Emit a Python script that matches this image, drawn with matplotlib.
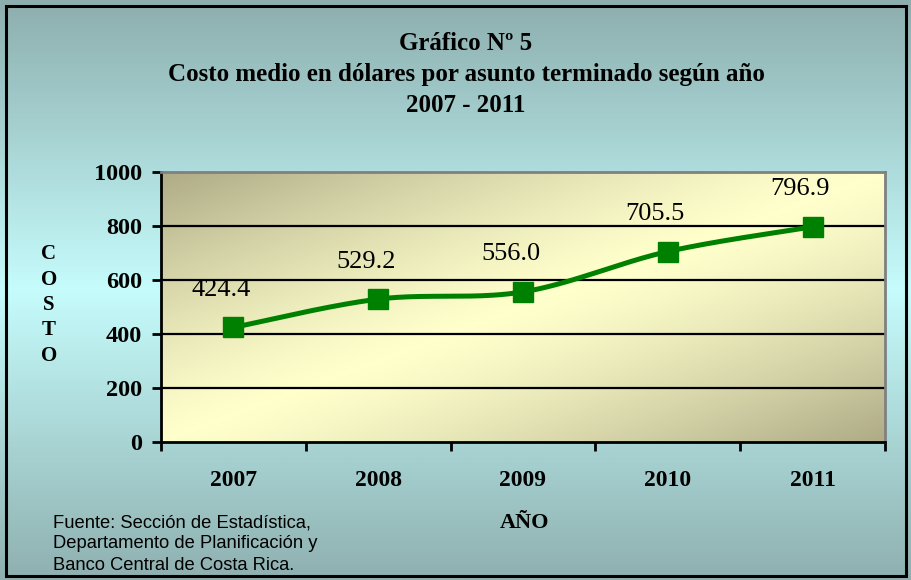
import numpy as np
import matplotlib
matplotlib.use("Agg")
import matplotlib.pyplot as plt
from matplotlib.colors import LinearSegmentedColormap

years = ["2007", "2008", "2009", "2010", "2011"]
costs = [424.4, 529.2, 556.0, 705.5, 796.9]
y_ticks = [0, 200, 400, 600, 800, 1000]
title_lines = ["Gráfico Nº 5",
               "Costo medio en dólares por asunto terminado según año",
               "2007 - 2011"]
source_text = "Fuente: Sección de Estadística,\nDepartamento de Planificación y\nBanco Central de Costa Rica."

W, H = 911, 580
fig = plt.figure(figsize=(W / 100, H / 100), dpi=100)

# ---- figure background (vertical gradient) ----
bg = fig.add_axes([0, 0, 1, 1], zorder=-10)
bg_cmap = LinearSegmentedColormap.from_list(
    "bg", [(0.0, "#8daeae"), (0.5, "#c6fcfc"), (1.0, "#8fb0b0")])
grad = np.linspace(0, 1, 400).reshape(-1, 1)
bg.imshow(grad, aspect="auto", cmap=bg_cmap, extent=[0, 1, 0, 1], origin="upper")
bg.set_xlim(0, 1); bg.set_ylim(0, 1)
bg.axis("off")
bg.add_patch(plt.Rectangle((6 / W, 4 / H), (906 - 6) / W, (576 - 6) / H,
                           fill=False, ec="black", lw=2.2, transform=bg.transAxes))

# ---- plot area ----
L, R, T, B = 161, 885, 172, 442
ax = fig.add_axes([L / W, 1 - B / H, (R - L) / W, (B - T) / H])
n = len(years)

# diagonal gradient fill (dark top-left and bottom-right)
gx, gy = np.meshgrid(np.linspace(0, 1, 300), np.linspace(0, 1, 150))
d = (gx + gy) / 2
t = np.clip(np.abs(d - 0.5) * 2, 0, 1) ** 1.3
pa_cmap = LinearSegmentedColormap.from_list("pa", ["#ffffcc", "#aeab86"])
ax.imshow(t, cmap=pa_cmap, aspect="auto", extent=[-0.5, n - 0.5, 0, 1000],
          origin="upper", zorder=0, vmin=0, vmax=1)
ax.set_xlim(-0.5, n - 0.5)
ax.set_ylim(0, 1000)

for yv in y_ticks[1:-1]:
    ax.axhline(yv, color="black", lw=1.6, zorder=1)

# smooth line (Bezier smoothing in pixel space)
xs = np.arange(n, dtype=float)
ys = np.array(costs, dtype=float)
sx = (R - L) / n
sy = (B - T) / 1000.0
pts = np.column_stack([xs * sx, ys * sy])
ext = np.vstack([pts[0], pts, pts[-1]])
curve = []
for i in range(1, len(ext) - 2):
    p0, p1, p2, p3 = ext[i - 1], ext[i], ext[i + 1], ext[i + 2]
    c1 = p1 + (p2 - p0) / 6
    c2 = p2 - (p3 - p1) / 6
    tt = np.linspace(0, 1, 40)[:, None]
    seg = ((1 - tt) ** 3) * p1 + 3 * ((1 - tt) ** 2) * tt * c1 + 3 * (1 - tt) * tt ** 2 * c2 + tt ** 3 * p2
    curve.append(seg)
curve = np.vstack(curve)
ax.plot(curve[:, 0] / sx, curve[:, 1] / sy, color="#008000", lw=3.6, zorder=3,
        solid_capstyle="round")
ax.plot(xs, ys, linestyle="none", marker="s", ms=14, color="#008000",
        mec="#008000", zorder=4)

serif = "Liberation Serif"
for xv, yv in zip(xs, ys):
    ax.annotate(f"{yv:.1f}", (xv, yv), xytext=(-9, 27), textcoords="offset points",
                ha="center", va="center", fontsize=19, family=serif, zorder=5)

# spines
for s in ["top", "right"]:
    ax.spines[s].set_color("#808080")
    ax.spines[s].set_linewidth(2)
for s in ["left", "bottom"]:
    ax.spines[s].set_color("black")
    ax.spines[s].set_linewidth(2)

ax.set_yticks(y_ticks)
ax.set_yticklabels([str(v) for v in y_ticks], fontsize=17.5, fontweight="bold", family=serif)
ax.tick_params(axis="y", direction="out", length=6.5, width=2, pad=7)

ax.set_xticks(np.arange(n + 1) - 0.5)
ax.set_xticklabels([])
ax.set_xticks(xs, minor=True)
ax.set_xticklabels(years, minor=True, fontsize=17, fontweight="bold", family=serif)
ax.tick_params(axis="x", which="major", direction="out", length=6.5, width=2)
ax.tick_params(axis="x", which="minor", length=0, pad=20)

# titles and texts
for i, line in enumerate(title_lines):
    fig.text(466 / W, 1 - (43 + 31 * i) / H, line, ha="center", va="center",
             fontsize=18, fontweight="bold", family=serif)

fig.text(49 / W, 1 - 305 / H, "C\nO\nS\nT\nO", ha="center", va="center",
         fontsize=15, fontweight="bold", family=serif, linespacing=1.36)
fig.text(525 / W, 1 - 523 / H, "AÑO", ha="center", va="center",
         fontsize=16, fontweight="bold", family=serif)
fig.text(53 / W, 1 - 544 / H, source_text, ha="left", va="center",
         fontsize=13.2, family="Liberation Sans", linespacing=1.34)

fig.savefig("out.png", dpi=100)
